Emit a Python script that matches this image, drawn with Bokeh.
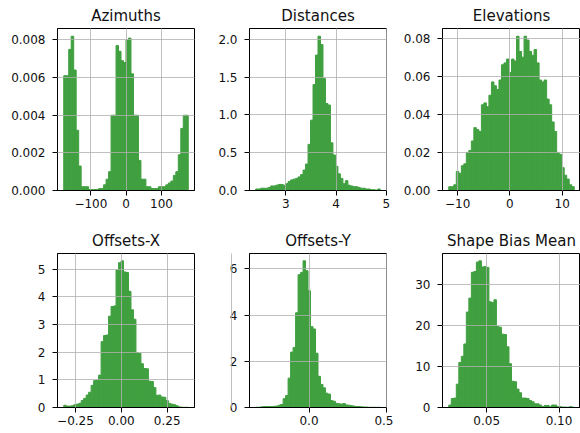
import numpy as np
from bokeh.plotting import figure
from bokeh.layouts import column, row
from bokeh.models import FixedTicker, Range1d
from bokeh.embed import file_html
from bokeh.resources import INLINE

# ---------------- data (density values of 50 bins per panel) ----------------
titles = ["Azimuths", "Distances", "Elevations", "Offsets-X", "Offsets-Y", "Shape Bias Mean"]

az_density = [0.0061, 0.0061, 0.0075, 0.0082, 0.0064, 0.0032, 0.0013, 0.0002, 0.0002, 0.0002,
              0.00005, 0.00005, 0.00005, 0.00005, 0.0001, 0.0001, 0.0003, 0.0006, 0.0010, 0.0040,
              0.0040, 0.0077, 0.0074, 0.0069, 0.0068, 0.0080, 0.0081, 0.0062, 0.0040, 0.0040,
              0.0016, 0.0006, 0.0006, 0.0002, 0.0002, 0.0001, 0.0001, 0.0001, 0.0002, 0.0002,
              0.0002, 0.0003, 0.0004, 0.0005, 0.0008, 0.0010, 0.0019, 0.0033, 0.0040, 0.0040]
az_span = [-177.0, 176.0]

dist_density = [0.02, 0.02, 0.03, 0.03, 0.03, 0.04, 0.06, 0.06, 0.07, 0.08,
                0.08, 0.07, 0.09, 0.12, 0.14, 0.15, 0.16, 0.18, 0.21, 0.27,
                0.35, 0.61, 0.93, 1.40, 1.79, 2.04, 1.93, 1.48, 1.15, 1.13,
                0.63, 0.47, 0.32, 0.22, 0.16, 0.09, 0.13, 0.07, 0.06, 0.05,
                0.05, 0.04, 0.03, 0.03, 0.02, 0.02, 0.01, 0.01, 0.005, 0.02]
dist_span = [2.40, 4.88]

elev_density = [0.002, 0.002, 0.003, 0.010, 0.009, 0.013, 0.014, 0.020, 0.021, 0.026,
                0.033, 0.032, 0.031, 0.045, 0.046, 0.044, 0.050, 0.057, 0.055, 0.053,
                0.058, 0.066, 0.067, 0.069, 0.062, 0.069, 0.068, 0.081, 0.073, 0.070,
                0.081, 0.079, 0.073, 0.071, 0.074, 0.067, 0.058, 0.057, 0.058, 0.048,
                0.045, 0.036, 0.031, 0.020, 0.019, 0.012, 0.008, 0.006, 0.003, 0.002]
elev_span = [-11.7, 12.3]

offx_density = [0.08, 0.05, 0.05, 0.06, 0.10, 0.12, 0.15, 0.25, 0.33, 0.45,
                0.55, 0.80, 0.97, 0.99, 1.17, 2.38, 2.60, 2.62, 3.30, 3.65,
                3.67, 4.97, 5.23, 5.30, 4.90, 4.88, 4.20, 3.53, 3.19, 1.98,
                1.96, 1.58, 1.41, 1.40, 0.95, 0.94, 0.72, 0.44, 0.45, 0.38,
                0.37, 0.25, 0.15, 0.12, 0.10, 0.06, 0.02, 0.01, 0.005, 0.01]
offx_span = [-0.314, 0.365]

offy_density = [0.01, 0.01, 0.03, 0.04, 0.04, 0.04, 0.04, 0.05, 0.06, 0.10,
                0.13, 0.38, 0.52, 1.27, 2.40, 2.60, 4.10, 5.75, 5.85, 6.35,
                5.92, 5.05, 3.50, 3.40, 2.35, 1.35, 1.00, 0.85, 0.62, 0.58,
                0.30, 0.27, 0.18, 0.16, 0.15, 0.17, 0.11, 0.10, 0.08, 0.06,
                0.04, 0.04, 0.03, 0.02, 0.02, 0.01, 0.01, 0.01, 0.005, 0.01]
offy_span = [-0.345, 0.461]

sb_density = [0.6, 2.2, 2.3, 5.7, 11.0, 12.5, 15.5, 23.3, 26.7, 33.0,
              33.2, 35.5, 35.8, 34.3, 34.4, 34.2, 25.8, 25.6, 26.3, 19.8,
              19.6, 17.9, 17.8, 14.8, 10.7, 6.4, 6.3, 4.5, 3.6, 2.3,
              2.3, 2.2, 1.7, 1.4, 0.9, 0.9, 0.6, 0.2, 0.5, 0.5,
              0.2, 0.6, 0.6, 0.2, 0.2, 0.1, 0.1, 0.05, 0.2, 0.1]
sb_span = [0.0238, 0.1105]

x_ticks = [[-100, 0, 100], [3, 4, 5], [-10, 0, 10], [-0.25, 0.0, 0.25], [-0.5, 0.0, 0.5], [0.05, 0.10]]
x_labels = [["\u2212100", "0", "100"], ["3", "4", "5"], ["\u221210", "0", "10"],
            ["\u22120.25", "0.00", "0.25"], ["\u22120.5", "0.0", "0.5"], ["0.05", "0.10"]]
y_ticks = [[0.0, 0.002, 0.004, 0.006, 0.008], [0.0, 0.5, 1.0, 1.5, 2.0],
           [0.0, 0.02, 0.04, 0.06, 0.08], [0, 1, 2, 3, 4, 5], [0, 2, 4, 6], [0, 10, 20, 30]]
y_labels = [["0.000", "0.002", "0.004", "0.006", "0.008"], ["0.0", "0.5", "1.0", "1.5", "2.0"],
            ["0.00", "0.02", "0.04", "0.06", "0.08"], ["0", "1", "2", "3", "4", "5"],
            ["0", "2", "4", "6"], ["0", "10", "20", "30"]]

densities = [az_density, dist_density, elev_density, offx_density, offy_density, sb_density]
spans = [az_span, dist_span, elev_span, offx_span, offy_span, sb_span]

FONT = "DejaVu Sans"
TXT = "#111111"
BAR = "#40a040"   # matplotlib 'g' at alpha 0.75 on white

# layout (pixels) - page has no body margin with Bokeh's template
col_widths = [200, 193, 187]
col_left = [57, 49, 49]
col_right = [6, 7, 0]
row_heights = [226, 207]
row_top = [28, 20]
row_bottom = [36, 26]


def make_hist(i):
    r, c = divmod(i, 3)
    dens = np.array(densities[i], dtype=float)
    lo, hi = spans[i]
    edges = np.linspace(lo, hi, len(dens) + 1)
    pad = 0.05 * (hi - lo)
    p = figure(width=col_widths[c], height=row_heights[r],
               x_range=Range1d(lo - pad, hi + pad), y_range=Range1d(0, 1.05 * dens.max()),
               output_backend="svg", toolbar_location=None,
               min_border_left=col_left[c], min_border_right=col_right[c],
               min_border_top=row_top[r], min_border_bottom=row_bottom[r])
    p.quad(left=edges[:-1], right=edges[1:], bottom=0, top=dens,
           fill_color=BAR, line_color=BAR, line_width=1.0)
    p.title.text = titles[i]
    p.title.align = "center"
    p.title.text_font = FONT
    p.title.text_font_size = "15px"
    p.title.text_font_style = "normal"
    p.title.text_color = TXT
    p.title.standoff = 7
    p.background_fill_color = "white"
    p.border_fill_color = "white"
    p.outline_line_color = "black"
    p.outline_line_width = 1
    p.outline_line_alpha = 1.0

    p.xaxis.ticker = FixedTicker(ticks=x_ticks[i])
    p.xaxis.major_label_overrides = {t: l for t, l in zip(x_ticks[i], x_labels[i])}
    p.yaxis.ticker = FixedTicker(ticks=y_ticks[i])
    p.yaxis.major_label_overrides = {t: l for t, l in zip(y_ticks[i], y_labels[i])}
    for ax in (p.xaxis, p.yaxis):
        ax.minor_tick_line_color = None
        ax.major_tick_in = 0
        ax.major_tick_out = 5
        ax.major_tick_line_color = "black"
        ax.axis_line_color = "black"
        ax.major_label_text_font = FONT
        ax.major_label_text_font_size = "12px"
        ax.major_label_text_color = TXT
    p.xaxis.major_label_standoff = 3
    p.yaxis.major_label_standoff = 7
    p.grid.grid_line_color = "#b0b0b0"
    p.grid.grid_line_width = 0.8
    p.grid.level = "annotation"
    return p


figs = [make_hist(i) for i in range(6)]
layout = column(row(*figs[:3]), row(*figs[3:]))
open("out.html", "w").write(file_html(layout, INLINE))
